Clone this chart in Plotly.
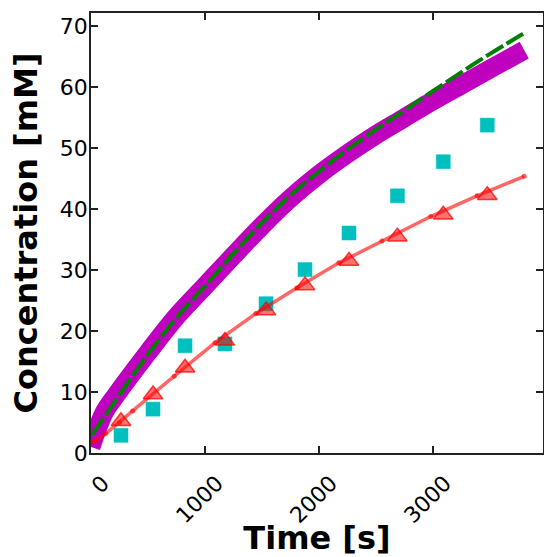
import plotly.graph_objects as go

# Magenta (dense simulated data, drawn as a thick band)
sim_t = [0, 60, 120, 200, 500, 750, 1000, 1250, 1500, 1750, 2000, 2250, 2500, 2750, 3000, 3250, 3500, 3800]
sim_c = [1.0, 4.2, 6.8, 9.0, 16.5, 22.4, 27.4, 32.4, 37.3, 41.8, 45.7, 49.1, 52.2, 55.0, 57.8, 60.4, 63.0, 66.1]

# Green dashed fit
fit_t = [10, 200, 500, 750, 1000, 1250, 1500, 1750, 2000, 2250, 2500, 2750, 3000, 3250, 3500, 3790]
fit_c = [3.0, 8.2, 16.2, 22.2, 27.4, 32.7, 37.8, 42.3, 46.2, 49.8, 53.1, 56.2, 59.4, 62.5, 65.5, 68.8]

# Cyan squares
sq_t = [263, 544, 825, 1175, 1535, 1877, 2263, 2688, 3090, 3476]
sq_c = [2.9, 7.2, 17.6, 17.9, 24.5, 30.1, 36.1, 42.2, 47.8, 53.8]

# Red triangles
tri_t = [263, 544, 825, 1175, 1535, 1877, 2263, 2687, 3090, 3476]
tri_c = [5.2, 9.6, 14.0, 18.4, 23.4, 27.5, 31.5, 35.5, 39.1, 42.3]

# Red model line
red_t = [0, 50, 130, 250, 365, 730, 1088, 1447, 1807, 2175, 2553, 2980, 3386, 3800]
red_c = [1.8, 2.1, 3.2, 5.0, 6.9, 12.6, 18.1, 22.9, 27.1, 31.2, 34.8, 38.8, 42.2, 45.4]

x_ticks = [0, 1000, 2000, 3000]
y_ticks = [0, 10, 20, 30, 40, 50, 60, 70]

fig = go.Figure()
fig.add_trace(go.Scatter(x=sim_t, y=sim_c, mode="lines",
                         line=dict(color="#bf00bf", width=19, shape="spline"),
                         showlegend=False))
fig.add_trace(go.Scatter(x=fit_t, y=fit_c, mode="lines",
                         line=dict(color="#008000", width=4, dash="20px,4px", shape="spline"),
                         showlegend=False))
fig.add_trace(go.Scatter(x=sq_t, y=sq_c, mode="markers",
                         marker=dict(symbol="square", size=14, color="#00bfbf",
                                     line=dict(color="rgba(0,191,191,0.5)", width=1)),
                         showlegend=False))
fig.add_trace(go.Scatter(x=red_t, y=red_c, mode="lines+markers",
                         line=dict(color="rgba(255,0,0,0.6)", width=3.5),
                         marker=dict(size=5, color="rgba(255,0,0,0.6)"),
                         showlegend=False))
fig.add_trace(go.Scatter(x=tri_t, y=tri_c, mode="markers",
                         marker=dict(symbol="triangle-up", size=17, color="rgba(255,0,0,0.55)",
                                     line=dict(color="rgba(255,0,0,0.75)", width=1.5)),
                         showlegend=False))

axis_common = dict(showgrid=False, zeroline=False, showline=True, linecolor="#222",
                   linewidth=1.5, mirror="allticks", ticks="inside", ticklen=7,
                   tickwidth=1.5, tickcolor="#222", automargin=False,
                   tickfont=dict(family="DejaVu Sans", size=22, color="black"))

fig.update_layout(
    width=544, height=557,
    margin=dict(l=91, r=1, t=13, b=104),
    plot_bgcolor="white", paper_bgcolor="white",
    xaxis=dict(range=[0, 3965], tickvals=x_ticks, ticktext=[str(v) for v in x_ticks],
               tickangle=-45, ticklabelshift=12, ticklabelstandoff=7,
               title=dict(text="<b>Time [s]</b>", standoff=22,
                          font=dict(family="DejaVu Sans", size=32, color="black")),
               **axis_common),
    yaxis=dict(range=[0, 72.2], tickvals=y_ticks, ticktext=[str(v) for v in y_ticks],
               ticklabelstandoff=-3,
               title=dict(text="<b>Concentration [mM]</b>", standoff=13,
                          font=dict(family="DejaVu Sans", size=32, color="black")),
               **axis_common),
)

fig.write_html("out.html", config={"displayModeBar": False},
               post_script="document.body.style.margin='0';document.body.style.overflow='hidden';")
